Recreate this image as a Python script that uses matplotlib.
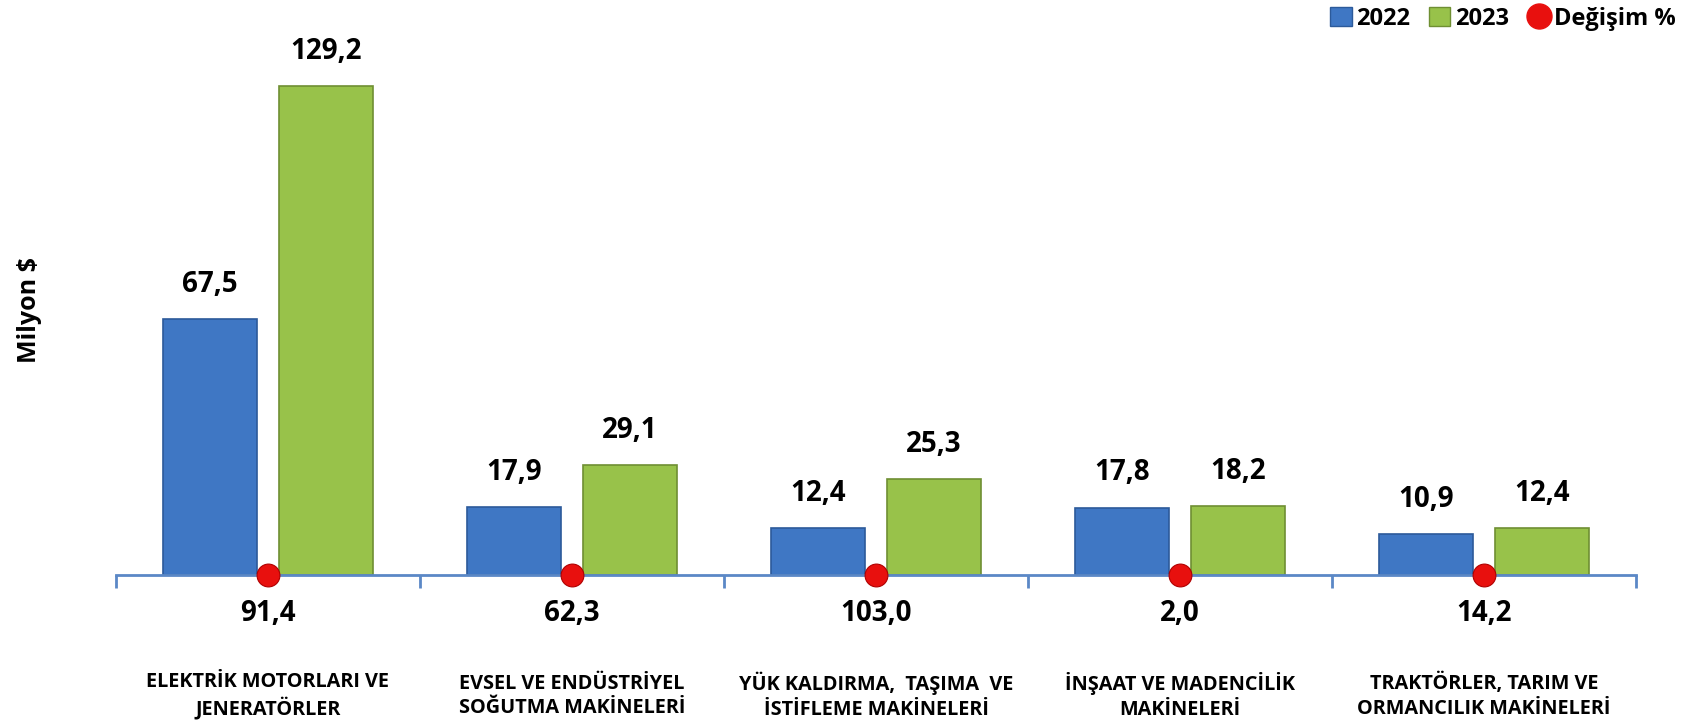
import matplotlib
matplotlib.use("Agg")
from matplotlib import pyplot as plt
from matplotlib.lines import Line2D
from matplotlib.patches import Patch

kategoriler = ["ELEKTRİK MOTORLARI VE\nJENERATÖRLER",
               "EVSEL VE ENDÜSTRİYEL\nSOĞUTMA MAKİNELERİ",
               "YÜK KALDIRMA,  TAŞIMA  VE\nİSTİFLEME MAKİNELERİ",
               "İNŞAAT VE MADENCİLİK\nMAKİNELERİ",
               "TRAKTÖRLER, TARIM VE\nORMANCILIK MAKİNELERİ"]
deger_2022 = [67.5, 17.9, 12.4, 17.8, 10.9]
deger_2023 = [129.2, 29.1, 25.3, 18.2, 12.4]
degisim = [91.4, 62.3, 103.0, 2.0, 14.2]

plt.rcParams['font.family'] = ['Open Sans', 'DejaVu Sans']
plt.rcParams['font.weight'] = 'bold'

MAVI = "#3F77C4"
YESIL = "#98C24A"

def virgul(v):
    return f"{v:.1f}".replace(".", ",")

fig = plt.figure(figsize=(16.89, 7.21), dpi=100)
ax = fig.add_axes([116/1689, 146/721, 1520/1689, 530/721])

x = list(range(len(kategoriler)))
xb = [i - 0.19 for i in x]
xg = [i + 0.19 for i in x]

ax.bar(xb, deger_2022, width=0.31, color=MAVI, edgecolor="#2C5A9A", linewidth=1.2, zorder=2)
ax.bar(xg, deger_2023, width=0.31, color=YESIL, edgecolor="#6F8F33", linewidth=1.2, zorder=2)
ax.scatter(x, [0]*len(x), s=270, color="#E8100E", edgecolors="#B00000", linewidths=0.8, zorder=4, clip_on=False)

for i in x:
    ax.annotate(virgul(deger_2022[i]), (xb[i], deger_2022[i]), xytext=(0, 25), textcoords="offset points",
                ha="center", va="center", fontsize=20, fontweight="bold")
    ax.annotate(virgul(deger_2023[i]), (xg[i], deger_2023[i]), xytext=(0, 25), textcoords="offset points",
                ha="center", va="center", fontsize=20, fontweight="bold")
    ax.annotate(virgul(degisim[i]), (i, 0), xytext=(0, -28), textcoords="offset points",
                ha="center", va="center", fontsize=20, fontweight="bold")
    ax.annotate(kategoriler[i], (i, 0), xytext=(0, -87), textcoords="offset points",
                ha="center", va="center", fontsize=14.3, fontweight="bold", linespacing=1.3)

ax.set_xlim(-0.5, 4.5)
ax.set_ylim(0, 140)
for s in ["top", "right", "left"]:
    ax.spines[s].set_visible(False)
ax.spines["bottom"].set_color("#5B88C6")
ax.spines["bottom"].set_linewidth(2)
ax.set_yticks([])
ax.set_xticks([i - 0.5 for i in range(len(kategoriler) + 1)])
ax.set_xticklabels([])
ax.tick_params(axis="x", length=9, width=2, color="#5B88C6")

fig.text(30/1689, 1 - 310/721, "Milyon $", rotation=90, ha="center", va="center",
         fontsize=18, fontweight="bold")

tutamaklar = [Patch(facecolor=MAVI, edgecolor="#2C5A9A"),
              Patch(facecolor=YESIL, edgecolor="#6F8F33"),
              Line2D([], [], marker="o", linestyle="", color="#E8100E", markersize=18)]
fig.legend(tutamaklar, ["2022", "2023", "Değişim %"], loc="upper right", ncol=3,
           bbox_to_anchor=(1697/1689, 1.02), frameon=False,
           prop={"size": 17, "weight": "bold"},
           handlelength=0.9, handleheight=0.9, handletextpad=0.2, columnspacing=0.8)

fig.savefig("out.png", dpi=100)
